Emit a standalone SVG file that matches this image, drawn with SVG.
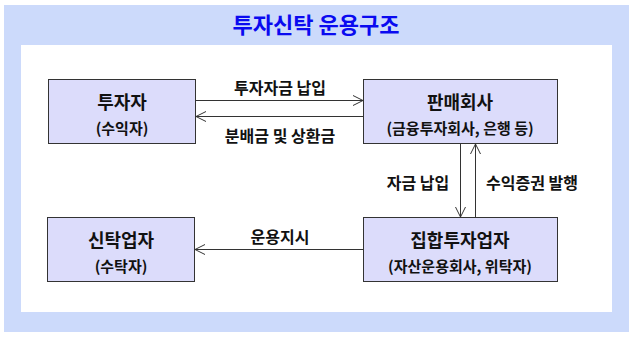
<svg xmlns="http://www.w3.org/2000/svg" width="634" height="339" viewBox="0 0 634 339">
<style>
.node rect{fill:#dcdcfb;stroke:#333333;stroke-width:1}
text{font-family:"Noto Sans CJK KR","Noto Sans",sans-serif;font-weight:bold;fill:#111111;text-anchor:middle}
.t{font-size:18px}
.s{font-size:15px}
.l{font-size:16px}
.conn line{stroke:#333333;stroke-width:1;fill:none}
.conn polyline{stroke:#333333;stroke-width:1;fill:none}
</style>
<rect x="0" y="0" width="634" height="339" fill="#ffffff"/>
<rect x="4" y="5" width="625" height="327" fill="#ccdafb"/>
<rect x="21" y="45" width="591" height="267" fill="#ffffff"/>
<text x="316" y="33" style="font-size:22px;fill:#0a0af0">투자신탁 운용구조</text>
<g id="investor" class="node">
<rect x="48.5" y="79.5" width="147" height="64"/>
<text class="t" x="122" y="109">투자자</text>
<text class="s" x="122" y="134">(수익자)</text>
</g>
<g id="seller" class="node">
<rect x="363.5" y="79.5" width="194" height="64"/>
<text class="t" x="460" y="109">판매회사</text>
<text class="s" x="460" y="134">(금융투자회사, 은행 등)</text>
</g>
<g id="manager" class="node">
<rect x="363.5" y="217.5" width="194" height="64"/>
<text class="t" x="460" y="247">집합투자업자</text>
<text class="s" x="460" y="272">(자산운용회사, 위탁자)</text>
</g>
<g id="trustee" class="node">
<rect x="47.5" y="217.5" width="147" height="64"/>
<text class="t" x="121" y="247">신탁업자</text>
<text class="s" x="121" y="272">(수탁자)</text>
</g>
<g id="connectors" class="conn">
<line x1="196" y1="100.5" x2="363" y2="100.5"/>
<polyline points="353,95.5 363,100.5 353,105.5"/>
<line x1="196" y1="116.5" x2="363" y2="116.5"/>
<polyline points="206,111.5 196,116.5 206,121.5"/>
<line x1="460.5" y1="144" x2="460.5" y2="217"/>
<polyline points="455.5,207 460.5,217 465.5,207"/>
<line x1="475.5" y1="144" x2="475.5" y2="217"/>
<polyline points="470.5,154 475.5,144 480.5,154"/>
<line x1="195" y1="249.5" x2="363" y2="249.5"/>
<polyline points="205,244.5 195,249.5 205,254.5"/>
</g>
<g id="labels">
<text class="l" x="280" y="94">투자자금 납입</text>
<text class="l" x="280" y="142">분배금 및 상환금</text>
<text class="l" x="418" y="189">자금 납입</text>
<text class="l" x="532" y="189">수익증권 발행</text>
<text class="l" x="280" y="243">운용지시</text>
</g>
</svg>
